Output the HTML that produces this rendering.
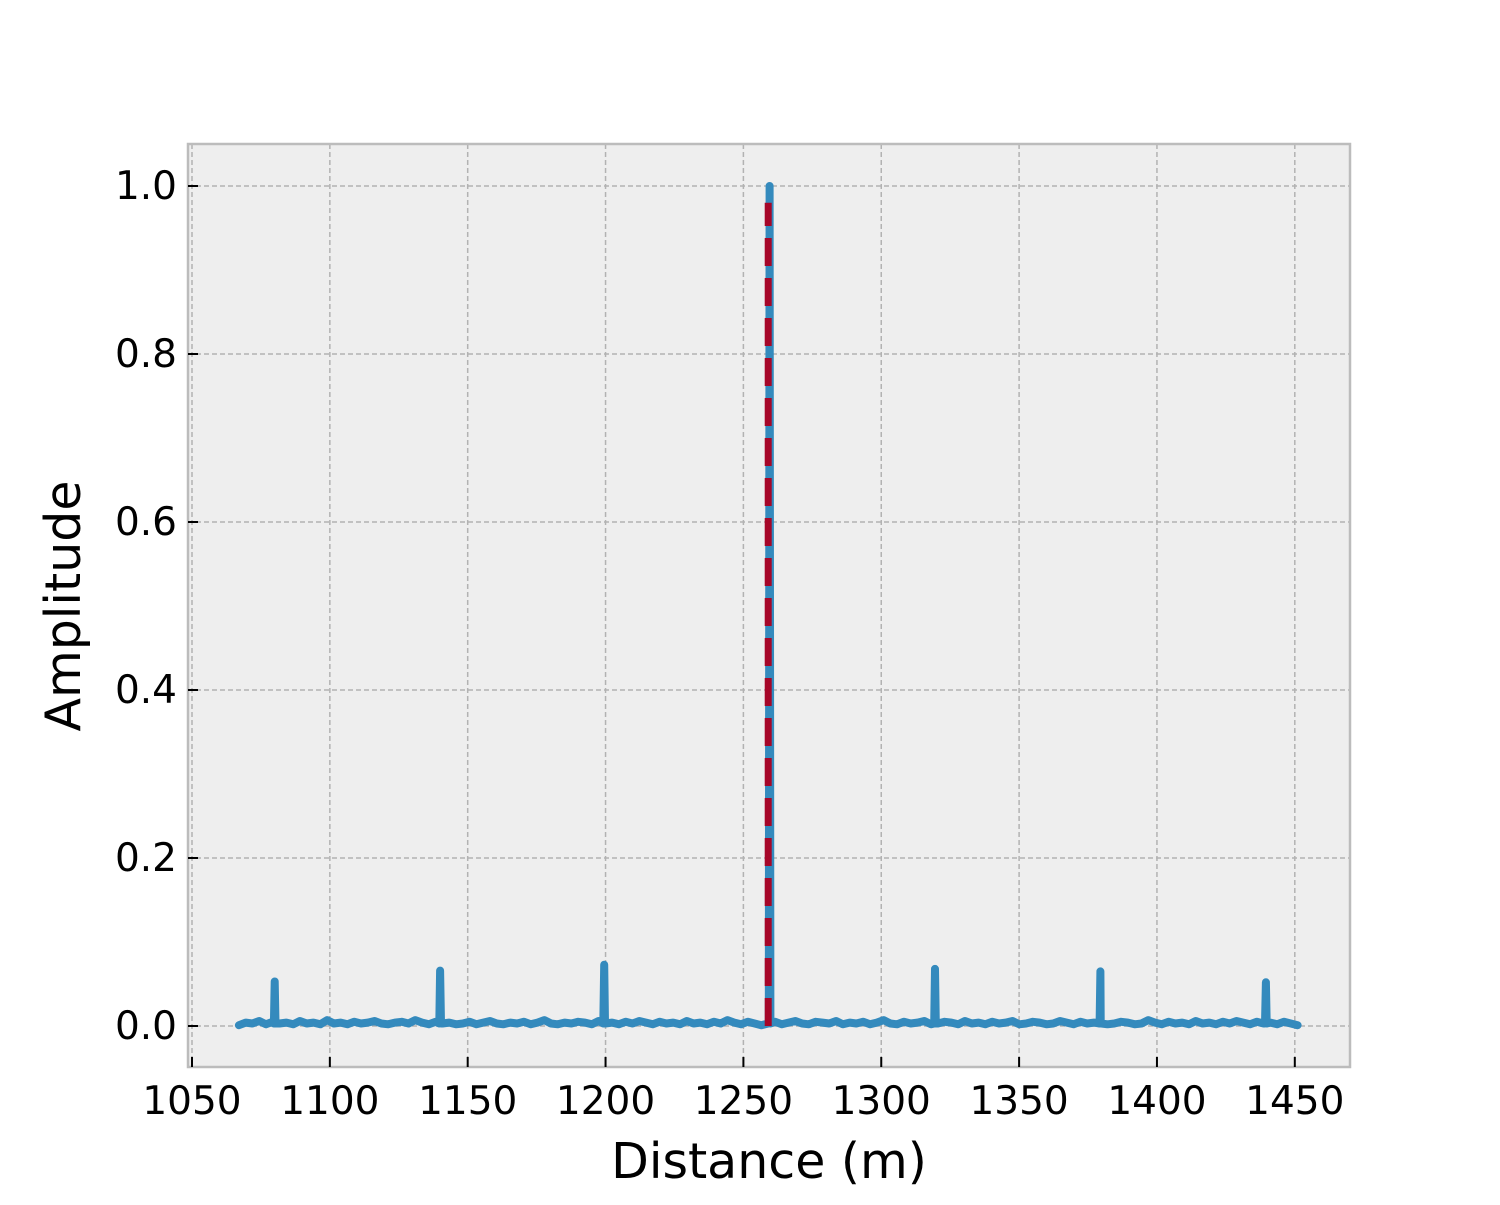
<!DOCTYPE html>
<html><head><meta charset="utf-8"><style>
html,body{margin:0;padding:0;background:#fff;}
svg text{font-family:"DejaVu Sans","Liberation Sans",sans-serif;fill:#000;}
</style></head><body>
<svg id="chart" width="1500" height="1200" xmlns="http://www.w3.org/2000/svg">
<rect x="188" y="144" width="1162" height="923" fill="#eeeeee"/>
<g id="grid"></g>
<g id="series"></g>
<rect x="188" y="144" width="1162" height="923" fill="none" stroke="#bcbcbc" stroke-width="2.5"/>
<g id="ticks"></g>
<text x="769" y="1178" font-size="49" text-anchor="middle">Distance (m)</text>
<text transform="translate(80,606) rotate(-90)" font-size="49" text-anchor="middle">Amplitude</text>
</svg>
<script>
const xTicks=[1050,1100,1150,1200,1250,1300,1350,1400,1450];
const yTicks=[0,0.2,0.4,0.6,0.8,1.0];
const yTickLabels=["0.0","0.2","0.4","0.6","0.8","1.0"];
const baseStart=1067, baseEnd=1451;
const baseline=[0.001,0.004,0.003,0.006,0.002,0.005,0.003,0.004,0.002,0.006,0.003,0.004,0.002,0.007,0.003,0.004,0.002,0.005,0.003,0.004,0.006,0.003,0.002,0.004,0.005,0.003,0.007,0.004,0.002,0.005,0.003,0.004,0.002,0.003,0.005,0.002,0.004,0.006,0.003,0.002,0.004,0.003,0.005,0.002,0.004,0.007,0.003,0.002,0.004,0.003,0.005,0.004,0.002,0.006,0.003,0.004,0.002,0.005,0.003,0.006,0.004,0.002,0.005,0.003,0.004,0.002,0.006,0.003,0.004,0.002,0.005,0.003,0.007,0.004,0.002,0.005,0.003,0.001,
0.003,0.005,0.002,0.004,0.006,0.003,0.002,0.005,0.004,0.003,0.006,0.002,0.004,0.003,0.005,0.002,0.004,0.007,0.003,0.002,0.005,0.003,0.004,0.006,0.002,0.003,0.005,0.004,0.002,0.006,0.003,0.004,0.002,0.005,0.003,0.004,0.006,0.002,0.003,0.005,0.004,0.002,0.003,0.006,0.004,0.002,0.005,0.003,0.004,0.006,0.002,0.003,0.005,0.004,0.002,0.003,0.007,0.004,0.002,0.005,0.003,0.004,0.002,0.006,0.003,0.004,0.002,0.005,0.003,0.006,0.004,0.002,0.005,0.003,0.004,0.002,0.005,0.003,0.001];
const spikeX=[1080,1140,1199.5,1259.5,1319.5,1379.5,1439.5];
const spikeY=[0.053,0.066,0.073,1.0,0.068,0.065,0.052];
const markerX=1259, markerTop=0.98;
const sx=v=>192+(v-1050)*2.757;
const sy=v=>1026-v*840;
const NS="http://www.w3.org/2000/svg";
function mk(tag,attrs,parent){const e=document.createElementNS(NS,tag);for(const k in attrs)e.setAttribute(k,attrs[k]);document.getElementById(parent).appendChild(e);return e;}
xTicks.forEach(t=>{
 const g=mk('line',{x1:sx(t),x2:sx(t),y1:144,y2:1067,stroke:'#b2b2b2','stroke-width':1.5,'stroke-dasharray':'5,3'},'grid');
 
 
 const tk=mk('line',{x1:sx(t),x2:sx(t),y1:1067,y2:1057,stroke:'#000','stroke-width':2},'ticks');
 
 
 const l=mk('text',{x:sx(t),y:1114,'font-size':39,'text-anchor':'middle'},'ticks');
 l.textContent=t;
 
 
});
yTicks.forEach((t,i)=>{
 const g=mk('line',{x1:188,x2:1350,y1:sy(t),y2:sy(t),stroke:'#b2b2b2','stroke-width':1.5,'stroke-dasharray':'5,3'},'grid');
 
 
 const tk=mk('line',{x1:188,x2:198,y1:sy(t),y2:sy(t),stroke:'#000','stroke-width':2},'ticks');
 
 
 const l=mk('text',{x:177,y:sy(t)+13,'font-size':39,'text-anchor':'end'},'ticks');
 l.textContent=yTickLabels[i];
 
 
});
const step=(baseEnd-baseStart)/(baseline.length-1);
let pts=baseline.map((v,i)=>[baseStart+i*step,v]);
spikeX.forEach((x,i)=>{pts.push([x-0.3,0.003]);pts.push([x,spikeY[i]]);pts.push([x+0.3,0.003]);});
pts.sort((a,b)=>a[0]-b[0]);
const d=pts.map((p,i)=>(i?'L':'M')+sx(p[0]).toFixed(1)+','+sy(p[1]).toFixed(1)).join(' ');
const path=mk('path',{d:d,fill:'none',stroke:'#348abd','stroke-width':8,'stroke-linejoin':'round','stroke-linecap':'round'},'series');


const m=mk('line',{x1:sx(markerX),x2:sx(markerX),y1:sy(0),y2:sy(markerTop),stroke:'#a60628','stroke-width':7,'stroke-dasharray':'28,12'},'series');


</script>
</body></html>
